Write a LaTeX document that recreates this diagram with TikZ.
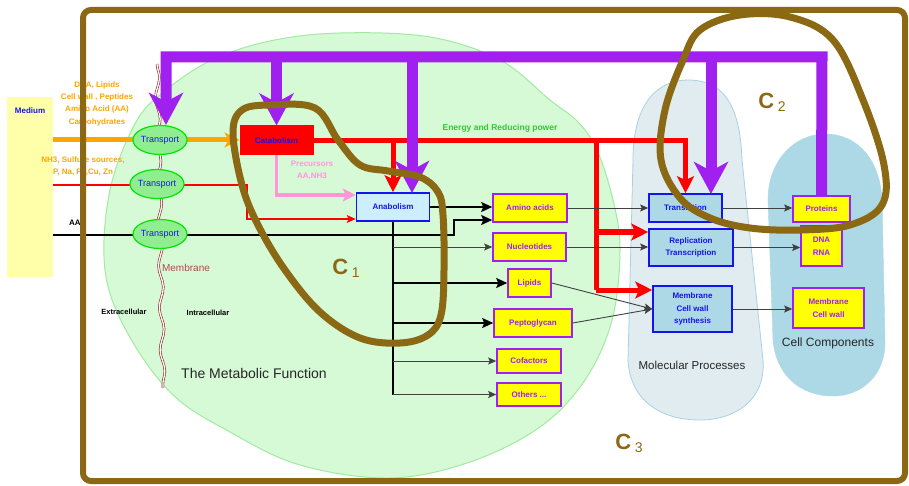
\documentclass[tikz,border=0pt]{standalone}
\usepackage{fontspec}
\setmainfont{Liberation Sans}
\usetikzlibrary{arrows.meta,decorations.pathmorphing,shapes.geometric}
\definecolor{brn}{RGB}{139,105,20}
\definecolor{purp}{RGB}{160,32,240}
\definecolor{orng}{RGB}{255,165,0}
\definecolor{pnk}{RGB}{255,150,220}
\definecolor{grnfill}{RGB}{214,250,214}
\definecolor{grnline}{RGB}{160,235,160}
\definecolor{mpfill}{RGB}{224,236,240}
\definecolor{mpline}{RGB}{170,210,225}
\definecolor{ccfill}{RGB}{173,216,230}
\definecolor{yel}{RGB}{255,255,0}
\definecolor{medfill}{RGB}{255,255,170}
\definecolor{blu}{RGB}{20,20,240}
\definecolor{lblue}{RGB}{173,216,230}
\definecolor{anafill}{RGB}{204,238,255}
\definecolor{trfill}{RGB}{144,238,144}
\definecolor{trline}{RGB}{0,230,0}
\definecolor{egreen}{RGB}{50,200,50}
\definecolor{memred}{RGB}{150,30,30}
\pgfdeclarelayer{bg}
\pgfdeclarelayer{lines}
\pgfsetlayers{bg,lines,main}
\begin{document}
\begin{tikzpicture}[x=1pt,y=-1pt,
  lbl/.style={font=\fontsize{8}{9.6}\selectfont\bfseries, align=center, inner sep=0pt},
  ybox/.style={lbl, draw=purp, fill=yel, line width=1.6pt, text=purp},
  bbox/.style={lbl, draw=blu, fill=lblue, line width=1.6pt, text=blu},
  trans/.style={ellipse, draw=trline, fill=trfill, line width=1.2pt, text=blu, font=\fontsize{9}{10}\selectfont, inner sep=0pt, minimum width=54pt, minimum height=29pt},
  purparrow/.style={draw=purp, line width=11pt, -{Stealth[length=32pt,width=34pt,inset=9pt]}},
  redthick/.style={draw=red, line width=5pt},
  redarrow/.style={redthick, -{Stealth[length=17pt,width=17pt,inset=4pt]}},
  redthin/.style={draw=red, line width=1.5pt, -{Stealth[length=9pt,width=8pt,inset=2pt]}},
  orangearrow/.style={draw=orng, line width=5pt, -{Stealth[length=15pt,width=15pt,inset=4pt]}},
  pinkarrow/.style={draw=pnk, line width=3.5pt, -{Stealth[length=13pt,width=13pt,inset=3pt]}},
  conn/.style={draw=black!75, line width=0.9pt, -{Stealth[length=8pt,width=7pt,inset=1.5pt]}},
  bconn/.style={draw=black, line width=1.8pt, -{Stealth[length=11pt,width=10pt,inset=2pt]}},
  bline/.style={draw=black, line width=1.6pt},
  loop/.style={draw=brn, line width=7pt},
  clabel/.style={text=brn, font=\fontsize{22}{24}\selectfont\bfseries, inner sep=0pt},
  big/.style={inner sep=0pt, text=black!85}
]
\useasboundingbox (0,0) rectangle (909,486);

\begin{pgfonlayer}{bg}
\fill[white] (0,0) rectangle (909,486);
% metabolic function blob
\draw[fill=grnfill, draw=grnline, line width=1pt] plot[smooth cycle, tension=0.6] coordinates {
 (340,33) (430,37) (500,60) (550,100) (578,122) (597,150) (613,200) (620,250) (612,320) (585,380) (540,427) (470,462) (390,478) (300,465) (230,432) (172,394) (127,332) (105,270) (110,190) (136,122) (166,90) (212,60) (270,41)};
% molecular processes
\draw[fill=mpfill, draw=mpline, line width=0.8pt]
 (633,160) .. controls (633,100) and (660,80) .. (688,80) .. controls (720,80) and (740,100) .. (742,160)
 -- (763,360) .. controls (766,400) and (735,420) .. (700,420) .. controls (660,420) and (630,400) .. (628,360) -- cycle;
% cell components
\draw[fill=ccfill, draw=ccfill]
 (768,200) .. controls (768,160) and (795,134) .. (825,134) .. controls (858,134) and (880,160) .. (882,200)
 -- (885,340) .. controls (886,375) and (862,396) .. (833,396) .. controls (800,396) and (776,375) .. (773,340) -- cycle;
% membrane
\draw[draw=memred, double=white, double distance=1.3pt, line width=0.6pt,
  decorate, decoration={snake, segment length=42pt, amplitude=2.2pt}] (157,64) -- (163,388);
\end{pgfonlayer}

% medium
\node[fill=medfill, minimum width=46pt, minimum height=180pt, inner sep=0pt] (med) at (30,187) {};
\node[lbl, text=blu] (medlbl) at (30,111) {Medium};

% boxes
\node[draw=red, fill=red, line width=1pt, lbl, text=blu, minimum width=73pt, minimum height=29pt] (cat) at (276.5,140.5) {Catabolism};
\node[lbl, draw=blu, fill=anafill, line width=1.6pt, text=blu, minimum width=73pt, minimum height=28pt] (ana) at (393,207) {Anabolism};

\node[ybox, minimum width=74pt, minimum height=28pt] (amino) at (530,208) {Amino acids};
\node[ybox, minimum width=73pt, minimum height=28pt] (nucl) at (529.5,247) {Nucleotides};
\node[ybox, minimum width=43pt, minimum height=28pt] (lipids) at (529.5,283) {Lipids};
\node[ybox, minimum width=78pt, minimum height=28pt] (pepto) at (533,323) {Peptoglycan};
\node[ybox, minimum width=64pt, minimum height=24pt] (cofac) at (529,361) {Cofactors};
\node[ybox, minimum width=64pt, minimum height=23pt] (others) at (529,394.5) {Others ...};

\node[bbox, minimum width=73pt, minimum height=28pt] (transl) at (685.5,208) {Translation};
\node[bbox, minimum width=84pt, minimum height=37pt, font=\fontsize{8}{12}\selectfont\bfseries] (repl) at (691,247.5) {Replication\\Transcription};
\node[bbox, minimum width=79pt, minimum height=46pt, font=\fontsize{8}{12.5}\selectfont\bfseries] (memsyn) at (692.5,309) {Membrane\\Cell wall\\synthesis};

\node[ybox, minimum width=57pt, minimum height=26pt] (prot) at (821.5,209) {Proteins};
\node[ybox, minimum width=41pt, minimum height=40pt, font=\fontsize{8}{13}\selectfont\bfseries] (dnarna) at (821.5,246) {DNA\\RNA};
\node[ybox, minimum width=71pt, minimum height=40pt, font=\fontsize{8}{13}\selectfont\bfseries] (memcw) at (828.5,308) {Membrane\\Cell wall};

% transport
\node[trans] (t1) at (160,140) {Transport};
\node[trans] (t2) at (157,184) {Transport};
\node[trans] (t3) at (160,234) {Transport};

% texts
\node[lbl, text=orng, font=\fontsize{8}{12.3}\selectfont\bfseries] (orgtxt) at (97,103.5) {DNA, Lipids\\Cell wall , Peptides\\Amino Acid (AA)\\Carbohydrates};
\node[lbl, text=orng, font=\fontsize{8}{12}\selectfont\bfseries] (nhtxt) at (83,166) {NH3, Sulfure sources,\\P, Na, Fe,Cu, Zn};
\node[lbl, text=black] (aatxt) at (75,223) {AA};
\node[lbl, text=pnk, font=\fontsize{8}{12}\selectfont\bfseries] (prectxt) at (312,170) {Precursors\\AA,NH3};
\node[lbl, text=egreen, font=\fontsize{8.5}{10}\selectfont\bfseries] (engtxt) at (500,128) {Energy and Reducing power};
\node[big, text=memred!80, font=\fontsize{10}{12}\selectfont] (memtxt) at (186,268) {Membrane};
\node[lbl, text=black, font=\fontsize{7.5}{9}\selectfont\bfseries] (extxt) at (124,312) {Extracellular};
\node[lbl, text=black, font=\fontsize{7.5}{9}\selectfont\bfseries] (intxt) at (208,313) {Intracellular};
\node[big, font=\fontsize{14}{16}\selectfont] (mftxt) at (254,373) {The Metabolic Function};
\node[big, font=\fontsize{11.5}{14}\selectfont] (mptxt) at (692,365) {Molecular Processes};
\node[big, font=\fontsize{12}{14}\selectfont] (cctxt) at (828,343) {Cell Components};

% connectors on lines layer
\coordinate (rc1) at (247,185);
\coordinate (bc1) at (454,235);
\coordinate (rb1) at (596,141);
\coordinate (rb2) at (596,290);
\begin{pgfonlayer}{lines}
\draw[orangearrow] (med.east |- t1) -- (cat.west |- t1);
\draw[redthin] (med.east |- rc1) -- (rc1) |- ([yshift=-12pt]ana.west);
\draw[bconn] (med.east |- bc1) -- (bc1) |- ([yshift=-12pt]amino.west);
\draw[pinkarrow] (cat.south) |- ([yshift=12pt]ana.west);
% red thick energy
\draw[redarrow] (cat.east) -- (cat.east -| transl.north) -- (transl.north);
\draw[redarrow] (cat.east -| ana.north) -- (ana.north);
\draw[redthick] (rb1) -- (rb2);
\draw[redarrow] (rb1 |- 0,232) -- (repl.west |- 0,232);
\draw[redarrow] (rb2) -- (memsyn.west |- rb2);
% anabolism outputs
\draw[bconn] (ana.east) -- (ana.east -| amino.west);
\draw[bline] (ana.south) -- (ana.south |- others.west);
\draw[conn] (ana.south |- nucl.west) -- (nucl.west);
\draw[bconn] (ana.south |- lipids.west) -- (lipids.west);
\draw[bconn] (ana.south |- pepto.west) -- (pepto.west);
\draw[conn] (ana.south |- cofac.west) -- (cofac.west);
\draw[conn] (ana.south |- others.west) -- (others.west);
% to molecular processes
\draw[conn] (amino.east) -- (amino.east -| transl.west);
\draw[conn] (nucl.east) -- (nucl.east -| repl.west);
\draw[conn] (lipids.east) -- (memsyn.west);
\draw[conn] (pepto.east) -- (memsyn.west);
% to cell components
\draw[conn] (transl.east) -- (transl.east -| prot.west);
\draw[conn] (repl.east) -- (repl.east -| dnarna.west);
\draw[conn] (memsyn.east) -- (memsyn.east -| memcw.west);
\end{pgfonlayer}

% purple
\coordinate (pl) at (166,57);
\coordinate (pr) at (822,57);
\draw[purparrow] (prot.north) -- (pr) -- (pl) -- (pl |- t1.north);
\draw[purparrow] (cat.north |- pl) -- (cat.north);
\draw[purparrow] (412,57) -- (412,193);
\draw[purparrow] (711,57) -- (711,194);

% brown loops
\draw[loop] plot[smooth cycle, tension=0.6] coordinates {
 (233,133) (242,110) (270,105) (315,108) (338,140) (360,165) (388,171) (420,177) (438,192) (443,215) (444,270) (441,315) (428,335) (400,343) (360,338) (320,312) (285,270) (258,225) (242,185)};
\draw[loop] plot[smooth cycle, tension=0.6] coordinates {
 (683,60) (700,30) (740,15) (790,17) (833,40) (863,100) (884,165) (882,205) (850,225) (800,230) (750,228) (710,218) (680,198) (661,160) (665,110)};
\node[clabel] (c1) at (346,268) {C\,\raisebox{-3pt}{\fontsize{14}{14}\selectfont\mdseries 1}};
\node[clabel] (c2) at (772,102) {C\,\raisebox{-3pt}{\fontsize{14}{14}\selectfont\mdseries 2}};
\node[clabel] (c3) at (629,443) {C\,\raisebox{-3pt}{\fontsize{14}{14}\selectfont\mdseries 3}};

% frame
\draw[brn, line width=6pt, rounded corners=8pt] (83,10) rectangle (905,481);
\end{tikzpicture}
\end{document}
